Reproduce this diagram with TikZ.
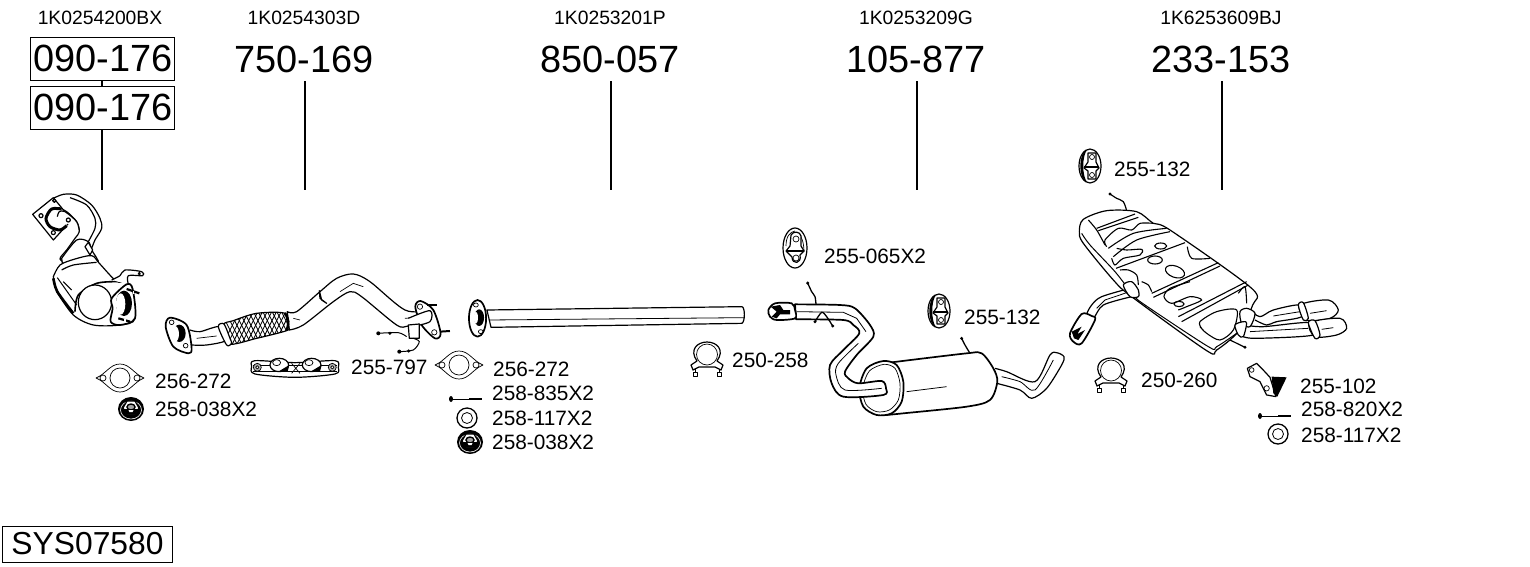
\documentclass[tikz,border=0pt]{standalone}
\usepackage{fontspec}
\setmainfont{Liberation Sans}
\tikzset{
  partno/.style={font=\fontsize{19.3}{20}\selectfont,inner sep=0pt},
  bignum/.style={font=\fontsize{37.9}{38}\selectfont,inner sep=0pt},
  boxnum/.style={draw,line width=1pt,minimum width=144pt,minimum height=43pt,inner sep=0pt},
  small/.style={font=\fontsize{20.8}{21}\selectfont,inner sep=0pt,anchor=west},
  lead/.style={line width=1.1pt},
  part/.style={draw,fill=white,line width=1.2pt,line join=round},
  heavy part/.style={part,line width=1.7pt},
  thin part/.style={draw,line width=.7pt,line join=round},
  gasket/.pic={
    \draw[thin part,fill=white] (-24,0) .. controls (-14,-4) and (-10,-14) .. (0,-14) .. controls (10,-14) and (14,-4) .. (24,0) .. controls (14,4) and (10,14) .. (0,14) .. controls (-10,14) and (-14,4) .. (-24,0) -- cycle;
    \draw[thin part] (0,0) circle (10) (-17,0) circle (3) (17,0) circle (3);
  },
  nut/.pic={
    \fill (0,0) ellipse (13 and 12);
    \draw[white,line width=.6pt] (0,1) ellipse (10.5 and 9);
    \draw[fill=white,line width=1.2pt] (-8,-1) -- (-4,-8) -- (4,-8) -- (8,-1) -- (4,5) -- (-4,5) -- cycle;
    \draw[line width=1.4pt,fill=black!35] (0,-2) ellipse (4 and 3);
    \fill (-8,0) -- (8,0) -- (4,5) -- (-4,5) -- cycle;
    \fill[white] (-2.5,1) -- (2.5,1) -- (1.5,3) -- (-1.5,3) -- cycle;
  },
  washer/.pic={
    \draw[part,line width=1.3pt] (0,0) circle (10);
    \draw[line width=.8pt] (0,0) circle (5.5);
  },
  bolt/.pic={
    \fill (-15,0) ellipse (2 and 3);
    \draw[line width=1pt] (-15,0) -- (16,0);
    \draw[line width=1.9pt] (3,0) -- (16,0);
  },
  clamp/.pic={
    \draw[line width=.9pt] (-12,6) -- (-12,19) (12,6) -- (12,19);
    \draw[part] (-16,7) -- (-10,3) .. controls (-18,-8) and (-10,-16) .. (0,-16) .. controls (10,-16) and (18,-8) .. (10,3) -- (16,7) -- (14,12) -- (8,9) -- (-8,9) -- (-14,12) -- cycle;
    \draw[thin part,fill=white] (0,-3.5) circle (10.5);
    \draw[thin part,fill=white] (-14,14) rectangle (-10,18) (10,14) rectangle (14,18);
  },
  hanger/.pic={
    \draw[part] (0,0) ellipse (12 and 20);
    \draw[thin part] (-9,-2) .. controls (-9,-12) and (-5,-16) .. (0,-17);
    \draw[thin part] (9,4) .. controls (9,-8) and (5,-14) .. (2,-15);
    \draw[part] (-4,-13) .. controls (-2,-17) and (5,-17) .. (6,-12) -- (6,-2) -- (9,3) -- (5,7) .. controls (7,16) and (-3,17) .. (-3,9) -- (-9,3) -- (-5,-2) -- cycle;
    \draw[thin part] (1,-9) circle (3) (1,10) circle (3);
    \draw[line width=1.4pt] (-9,3) -- (9,3);
  },
  dark hanger/.pic={
    \draw[part] (0,0) ellipse (11 and 17);
    \fill (-3,-16) .. controls (-12,-14) and (-12,14) .. (-3,16) .. controls (-8,10) and (-8,-10) .. (-3,-16) -- cycle;
    \draw[part] (-2,-13) -- (6,-13) -- (6,-4) -- (9,2) -- (6,5) -- (6,13) -- (-2,13) -- (-2,5) -- (-6,2) -- (-2,-4) -- cycle;
    \draw[thin part] (2,-9) circle (2.5) (2,9) circle (2.5);
    \draw[line width=1.8pt] (-6,1) -- (9,1);
  },
}
\begin{document}
\begin{tikzpicture}[x=1pt,y=-1pt]
  \useasboundingbox (0,0) rectangle (1530,566);

  % numbers on top
  \node[partno] (no1) at (100,18) {1K0254200BX};
  \node[boxnum] (box1) at (102,59) {\raisebox{.5pt}{\hspace{1.5pt}\fontsize{37.9}{38}\selectfont 090-176}};
  \node[boxnum] (box2) at (102,108) {\raisebox{.5pt}{\hspace{1.5pt}\fontsize{37.9}{38}\selectfont 090-176}};
  \coordinate (end1) at (102,190);
  \draw[lead] (box1) -- (box2) -- (end1);
  \foreach \id/\x/\name/\num in {2/305/1K0254303D/750-169,3/611/1K0253201P/850-057,4/917/1K0253209G/105-877,5/1222/1K6253609BJ/233-153}{
    \node[partno] (no\id) at (\x-1,18) {\name};
    \node[bignum] (num\id) at (\x-1,59) {\num};
    \coordinate (end\id) at (\x,190);
    \draw[lead] (\x,81) -- (end\id);
  }

  % catalyst
  \begin{scope}[shift={(20,185)},x=.3333pt,y=-.3333pt]
    \draw[part] plot[smooth] coordinates {(100,40) (130,28) (170,30) (215,60) (240,100) (245,130) (225,165) (205,205) (150,235) (120,222) (140,195) (165,160) (178,140) (170,110) (140,80) (110,65)} -- cycle;
    \draw[line width=1.2pt] plot[smooth] coordinates {(150,38) (200,60) (225,100) (225,130) (205,170)};
    \draw[part] (38,88) -- (100,38) -- (155,105) -- (100,165) -- cycle;
    \draw[line width=3pt,fill=white] plot[smooth] coordinates {(125,72) (95,72) (78,100) (90,125) (120,135) (140,122)};
    \draw[part] plot[smooth] coordinates {(112,95) (118,80) (135,80) (170,110) (178,140)};
    \draw[part] (63,92) circle (6) (100,143) circle (6) (145,105) circle (6) (103,47) circle (5);
    \draw[part] plot[smooth] coordinates {(125,220) (170,165) (205,170) (215,195) (235,235) (180,240) (130,255)} -- cycle;
    \draw[part] (195,185) -- (205,172) -- (218,195) -- (210,210) -- cycle;
    \draw[part] plot[smooth] coordinates {(100,275) (120,240) (165,222) (215,212) (238,235) (290,290) (320,295) (345,400) (300,420) (220,420) (160,390) (110,320)} -- cycle;
    \draw[line width=1.2pt] plot[smooth] coordinates {(125,255) (160,240) (230,232)};
    \draw[line width=2.6pt] plot[smooth] coordinates {(100,280) (112,320) (160,385)};
    \draw[line width=1pt] (112,278) -- (170,360) (130,290) -- (155,315);
    \draw[line width=1.6pt] plot[smooth] coordinates {(165,380) (175,330) (230,295) (290,290)};
    \draw[part] (225,352) ellipse (50 and 52);
    \draw[part] plot[smooth] coordinates {(275,285) (300,272) (315,255) (365,260) (368,272) (325,272) (325,298)};
    \draw[part] (358,266) circle (3);
    \draw[heavy part] plot[smooth cycle] coordinates {(275,340) (320,298) (338,312) (345,400) (300,420) (272,410) (278,370)};
    \fill (312,355) ellipse (24 and 38);
    \fill[white] (302,357) ellipse (14 and 32);
    \draw[line width=2.2pt] (320,312) -- (358,325) (295,400) -- (330,410);
    \draw[line width=1.2pt,white] (340,318) -- (340,326) (315,402) -- (315,410);
  \end{scope}

  % front pipe
  \begin{scope}[shift={(0,170)},x=.3333pt,y=-.3333pt]
    \draw[part] plot[smooth] coordinates {(862,425) (890,425) (960,365) (1010,325) (1060,312) (1110,335) (1215,420) (1295,425) (1290,455) (1225,468) (1190,465) (1085,380) (1050,365) (1000,395) (910,465) (868,480)} -- cycle;
    \draw[line width=.7pt] (880,445) -- (900,450) (1020,365) -- (1060,340) -- (1090,350) (1215,445) -- (1280,440);
    \draw[part] (958,362) -- (965,390) -- (980,400) -- (960,385) -- cycle;
    \draw[part] plot[smooth] coordinates {(570,480) (600,485) (660,470) (680,510) (620,525) (575,525)};
    \draw[line width=.7pt] (590,505) -- (650,498);
    \begin{scope}
      \draw[part] plot[smooth cycle] coordinates {(670,465) (700,452) (770,430) (855,430) (865,470) (860,482) (770,505) (685,522)};
      \clip plot[smooth cycle] coordinates {(670,465) (700,452) (770,430) (855,430) (865,470) (860,482) (770,505) (685,522)};
      \foreach \t in {0,14,...,220}{
        \draw[line width=.8pt] (660+\t,540) -- (720+\t,420);
        \draw[line width=.8pt] (660+\t,420) -- (720+\t,540);
      }
    \end{scope}
    \draw[line width=2.4pt] plot[smooth] coordinates {(855,428) (865,455) (860,482)};
    \draw[part] plot[smooth cycle] coordinates {(655,470) (672,462) (690,505) (695,520) (680,525)};
    \draw[heavy part] plot[smooth cycle] coordinates {(497,470) (510,443) (560,465) (575,535) (565,550) (520,530)};
    \fill (538,490) ellipse (19 and 26);
    \fill[white] (525,492) ellipse (12 and 24);
    \draw[thin part] (515,457) circle (7) (557,527) circle (7);
    \draw[heavy part] plot[smooth cycle] coordinates {(1246,410) (1262,393) (1300,420) (1322,490) (1305,505) (1265,465)};
    \draw[thin part] (1260,410) circle (8) (1303,487) circle (8);
    \draw[part] plot[smooth] coordinates {(1225,445) (1290,422) (1290,455) (1235,470)};
    \draw[part] (1225,465) -- (1258,462) -- (1258,505) -- (1228,505) -- cycle;
    \draw[line width=1pt] plot[smooth] coordinates {(1135,490) (1195,488) (1220,500)};
    \draw[line width=1pt] plot[smooth] coordinates {(1198,545) (1240,540) (1258,515) (1240,505)};
    \fill (1135,490) circle (6) (1170,490) circle (5) (1198,545) circle (6) (1226,543) circle (5);
    \draw[line width=2pt] (1320,485) -- (1350,483);
    \draw[line width=2pt] (1280,405) -- (1310,405);
  \end{scope}

  % heat shield
  \begin{scope}[shift={(0,170)},x=.3333pt,y=-.3333pt]
    \draw[part] plot[smooth cycle] coordinates {(755,590) (765,572) (885,578) (1005,572) (1015,592) (1005,612) (885,622) (765,612)};
    \draw[thin part] (760,585) -- (1010,585) (760,605) -- (1010,605);
    \draw[thin part,fill=white] (875,580) -- (900,610) (900,580) -- (875,610);
    \foreach \cx in {838,935}{
      \draw[part] (\cx,585) ellipse (28 and 20);
      \fill (\cx,603) -- (\cx+30,585) -- (\cx+25,605) -- cycle;
      \draw[thin part,fill=white] (\cx-8,578) ellipse (12 and 9);
    }
    \draw[thin part,fill=black!30] (772,592) circle (12) (997,592) circle (12);
    \draw[thin part,fill=white] (772,592) circle (5) (997,592) circle (5);
  \end{scope}

  % middle pipe
  \begin{scope}[shift={(440,220)},x=.408pt,y=-.3333pt]
    \draw[part] (115,270) -- (740,260) .. controls (748,262) and (748,305) .. (740,310) -- (125,322) -- cycle;
    \draw[line width=.8pt] (120,300) -- (745,293);
    \draw[heavy part] (92,295) ellipse (21 and 55);
    \fill (96,293) ellipse (12 and 25);
    \fill[white] (88,293) ellipse (5 and 18);
    \draw[thin part] (88,255) circle (6) (100,335) circle (6);
  \end{scope}

  % centre muffler
  \begin{scope}[shift={(760,275)},x=.3333pt,y=-.3333pt]
    \draw[line width=1.3pt] plot[smooth] coordinates {(605,190) (615,210) (630,235)};
    \fill (605,190) circle (5);
    \draw[part] plot[smooth] coordinates {(705,280) (740,290) (825,320) (870,240) (890,233) (912,245) (905,270) (860,340) (815,370) (780,345) (710,325)};
    \draw[line width=.8pt] plot[smooth] coordinates {(725,305) (780,320) (825,345) (880,255)};
    \draw[heavy part] plot[smooth] coordinates {(395,262) (620,235) (665,235) (700,280) (712,320) (690,375) (620,395) (430,415) (380,420)} -- cycle;
    \draw[line width=.8pt] (440,350) -- (560,335);
    \draw[thin part,fill=white] (385,262) .. controls (430,270) and (450,370) .. (395,415) -- (365,420) .. controls (320,410) and (310,270) .. cycle;
    \draw[heavy part] plot[smooth cycle] coordinates {(298,340) (320,280) (370,258) (410,270) (430,320) (425,380) (395,415) (350,420) (310,395)};
    \draw[thin part,fill=white] plot[smooth cycle] coordinates {(308,340) (328,288) (372,268) (405,280) (420,325) (415,375) (388,405) (350,410) (318,388)};
    \draw[heavy part] plot[smooth] coordinates {(105,88) (240,90) (285,100) (330,150) (340,185) (290,240) (255,290) (265,310) (295,325) (365,318) (378,340) (370,360) (250,365) (215,325) (210,270) (250,225) (298,175) (280,150) (250,135) (108,133)} -- cycle;
    \draw[line width=.8pt] (110,110) -- (250,112) -- (290,130) -- (318,170);
    \draw[line width=.8pt] plot[smooth] coordinates {(295,205) (235,265) (228,300) (255,345) (365,340)};
    \draw[heavy part] plot[smooth cycle] coordinates {(25,105) (45,85) (95,85) (105,105) (105,130) (50,135) (30,125)};
    \fill (32,95) -- (60,90) -- (70,105) -- (90,105) -- (90,118) -- (60,118) -- (50,130) -- (35,125) -- (50,110) -- cycle;
    \draw[line width=1.3pt] plot[smooth] coordinates {(143,24) (155,50) (165,65) (168,88)};
    \draw[line width=1.3pt] plot[smooth] coordinates {(165,140) (185,112) (200,125) (218,153)};
    \fill (143,24) circle (5) (165,140) circle (5) (218,153) circle (5);
  \end{scope}

  % rear muffler
  \begin{scope}[shift={(1070,190)},x=.3333pt,y=-.3333pt]
    \draw[part] plot[smooth] coordinates {(180,295) (95,320) (65,345) (50,375) (70,385) (100,345) (185,320)};
    \draw[line width=.8pt] (80,355) -- (105,330) -- (170,308);
    \draw[heavy part] plot[smooth cycle] coordinates {(35,372) (65,378) (75,390) (35,460) (10,455) (0,430)};
    \fill (5,425) -- (35,410) -- (22,432) -- (45,420) -- (25,450) -- (12,445) -- cycle;
    \draw[part] plot[smooth] coordinates {(540,360) (570,380) (610,360) (690,345) (695,380) (620,395) (590,405) (555,390)};
    \draw[line width=.8pt] (610,378) -- (690,365);
    \draw[part] plot[smooth cycle] coordinates {(690,345) (775,330) (805,360) (780,385) (710,390)};
    \draw[part] plot[smooth cycle] coordinates {(685,345) (700,338) (715,385) (700,390)};
    \draw[part] plot[smooth] coordinates {(525,405) (580,410) (720,398) (730,435) (560,445) (520,440)};
    \draw[line width=.8pt] (540,425) -- (715,415);
    \draw[part] plot[smooth cycle] coordinates {(720,398) (810,385) (830,415) (800,435) (735,440)};
    \draw[part] plot[smooth cycle] coordinates {(715,398) (735,392) (750,435) (735,445)};
    \draw[line width=.8pt] (755,418) -- (790,413) (720,370) -- (770,362);
    \draw[part] plot[smooth cycle] coordinates {(28,125) (40,88) (110,62) (200,65) (250,100) (300,120) (545,295) (548,345) (505,425) (440,480) (410,482) (185,320) (130,270) (40,160)};
    \draw[line width=1pt] plot[smooth] coordinates {(35,130) (60,165) (135,245) (190,315) (225,345) (415,470) (440,470) (500,430)};
    % panels of the shell
    \draw[line width=1.1pt] (80,115) -- (195,72) (85,122) -- (205,82) (138,235) -- (345,158) (245,310) -- (445,218) (250,322) -- (450,228) (325,380) -- (530,275) (335,395) -- (535,285);
    \draw[line width=1.1pt] plot[smooth] coordinates {(55,90) (80,120) (105,165)};
    \draw[line width=1.1pt] plot[smooth] coordinates {(110,170) (105,150) (145,115) (185,120) (210,100) (250,100)};
    \draw[line width=1.1pt] plot[smooth] coordinates {(115,175) (190,130) (290,115)};
    \draw[line width=1.1pt] plot[smooth] coordinates {(130,200) (200,150) (300,125)};
    \draw[line width=1.1pt] plot[smooth] coordinates {(140,175) (170,180) (215,178) (210,195) (160,205) (135,225) (125,205)};
    \draw[line width=1.1pt] (272,168) ellipse (18 and 9) (255,210) ellipse (22 and 12);
    \draw[line width=1.1pt,rotate around={-20:(315,245)}] (315,245) ellipse (30 and 17);
    \draw[line width=1.1pt] plot[smooth] coordinates {(352,170) (365,205) (420,205)};
    \draw[line width=1.1pt] plot[smooth] coordinates {(150,240) (175,240) (200,255) (205,285)};
    \draw[line width=1.1pt] plot[smooth] coordinates {(215,275) (235,285) (245,305)};
    \draw[line width=1.1pt] plot[smooth] coordinates {(360,275) (300,295) (282,320) (305,340) (360,320) (395,330) (350,350) (325,360)};
    \draw[line width=1.1pt] (327,342) ellipse (15 and 8);
    \draw[line width=1.1pt] plot[smooth] coordinates {(395,415) (390,395) (440,365) (500,360) (490,420) (450,450) (410,430) (390,410)};
    \draw[line width=1.1pt] plot[smooth] coordinates {(505,310) (525,290) (530,340)};
    \draw[part] plot[smooth cycle] coordinates {(160,285) (185,275) (205,300) (205,320) (180,320)};
    \draw[part] plot[smooth cycle] coordinates {(510,365) (530,355) (555,370) (540,410) (515,400)};
    \draw[part] plot[smooth cycle] coordinates {(495,405) (520,395) (530,400) (520,440) (505,435)};
    \draw[line width=1.2pt] plot[smooth] coordinates {(120,12) (140,25) (160,35) (170,62)};
    \fill (120,12) circle (5);
    \draw[line width=1.2pt] (480,450) -- (525,472);
    \fill (525,472) circle (5);
  \end{scope}

  % bracket 255-102
  \begin{scope}[shift={(1040,140)},x=.3333pt,y=-.3333pt]
    \draw[part] (622,685) -- (650,670) -- (665,685) -- (690,712) -- (708,770) -- (680,765) -- (660,725) -- (630,710) -- cycle;
    \fill (695,710) -- (740,712) -- (712,770) -- (700,760) -- cycle;
    \draw[thin part,fill=white] (635,690) circle (7) (680,745) circle (8);
  \end{scope}

  % small parts
  \pic at (120,378) {gasket};
  \pic at (459,365) {gasket};
  \pic at (131,409) {nut};
  \pic at (470,442) {nut};
  \pic at (467,418) {washer};
  \pic at (1278,434) {washer};
  \pic at (466,399) {bolt};
  \pic at (1275,416) {bolt};
  \pic at (707,358) {clamp};
  \pic at (1111,374) {clamp};
  \pic at (795,248) {hanger};
  \pic at (939,311) {dark hanger};
  \pic at (1090,166) {dark hanger};

  % labels
  \foreach \id/\x/\y/\txt in {a/155/381/256-272,b/155/409/258-038X2,c/351/367/255-797,d/493/369/256-272,e/492/393/258-835X2,f/492/418/258-117X2,g/492/442/258-038X2,h/732/360/250-258,i/824/256/255-065X2,j/964/317/255-132,k/1114/169/255-132,l/1141/380/250-260,m/1300/386/255-102,n/1301/409/258-820X2,o/1301/435/258-117X2}{
    \node[small] (lab\id) at (\x,\y) {\txt};
  }

  \node[draw,line width=1pt,font=\fontsize{31.8}{32}\selectfont,minimum width=170pt,minimum height=36pt,inner sep=0pt] (sys) at (87.5,544) {SYS07580};
\end{tikzpicture}
\end{document}
